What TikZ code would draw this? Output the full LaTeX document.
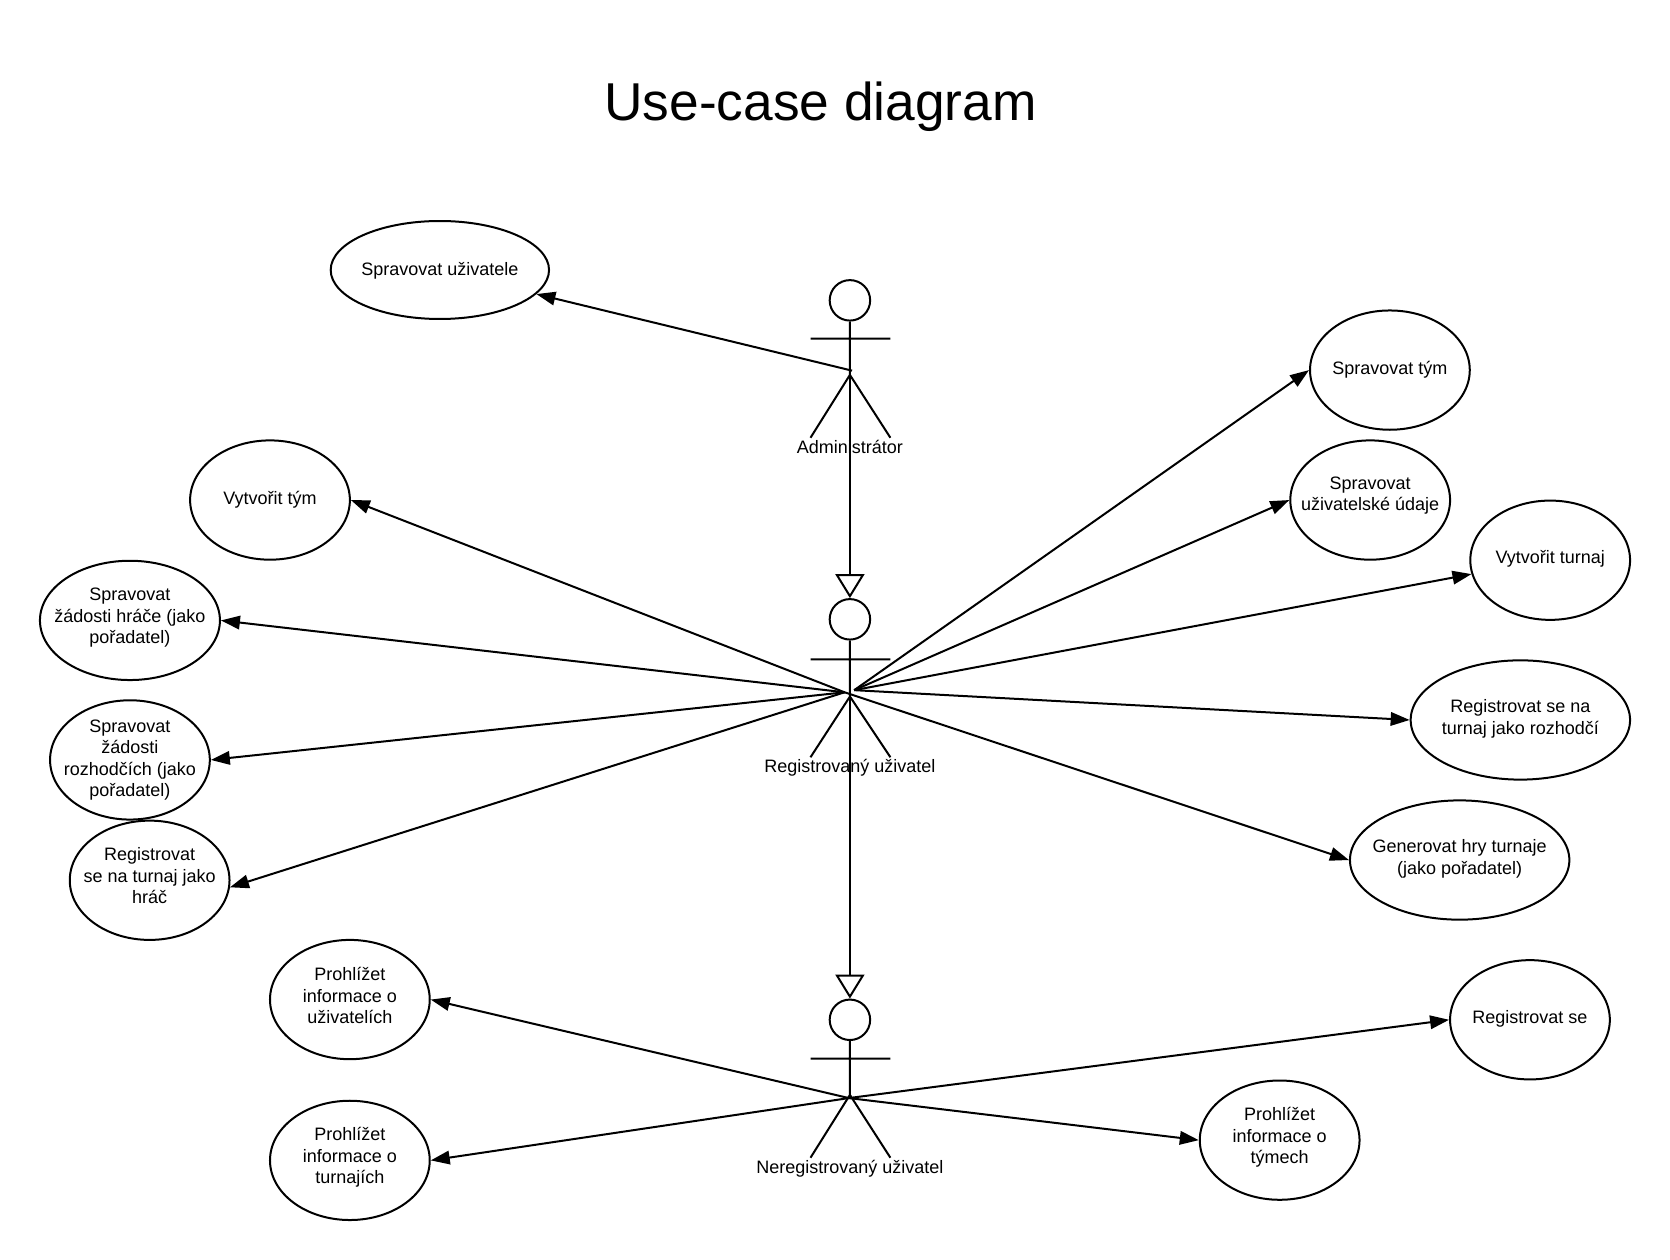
\documentclass[tikz,border=0pt]{standalone}
\usepackage{fontspec}
\setmainfont{Liberation Sans}
\usetikzlibrary{arrows.meta,shapes.geometric}
\def\U{1.0651pt}
\tikzset{
  uc/.style n args={4}{ellipse,draw,line width=2pt,inner sep=0pt,minimum width=(#1-1)*\U,minimum height=(#2-1)*\U,
    label={[txt,align=center,yshift={-(#4+2.2)*\U}]center:\strut #3\strut}},
  txt/.style={font=\fontsize{18}{21.5}\selectfont,text=black},
  head/.style={circle,draw,line width=2pt,inner sep=0pt,minimum size=38*\U},
  limb/.style={line width=2pt},
  assoc/.style={line width=2pt,-{Triangle[length=19pt,width=13.5pt]}},
  gen/.style={line width=2pt,-{Triangle[open,length=24pt,width=29pt,fill=white]}},
}
\begin{document}
\begin{tikzpicture}[x=1.0651pt,y=-1.0651pt]
\useasboundingbox (0,0) rectangle (1568,1183);
\node[font=\fontsize{53.3}{60}\selectfont] (title) at (770.5,100) {Use-case diagram};
% use cases
\node[uc={206}{93}{Spravovat uživatele}{-1.5}] (su) at (413,253.5) {};
\node[uc={151}{113}{Vytvořit tým}{-2.5}] (vt) at (253.5,469.5) {};
\node[uc={170}{113}{Spravovat\\žádosti hráče (jako\\pořadatel)}{-4.5}] (zh) at (122,582.5) {};
\node[uc={151}{113}{Spravovat\\žádosti\\rozhodčích (jako\\pořadatel)}{-2}] (zr) at (122,713.5) {};
\node[uc={151}{113}{Registrovat\\se na turnaj jako\\hráč}{-4.5}] (rh) at (140.5,826.5) {};
\node[uc={151}{113}{Prohlížet\\informace o\\uživatelích}{-3.5}] (pu) at (328.5,938.5) {};
\node[uc={151}{113}{Prohlížet\\informace o\\turnajích}{-4.5}] (pt) at (328.5,1089.5) {};
\node[uc={151}{113}{Spravovat tým}{-2.5}] (st) at (1305,347.5) {};
\node[uc={151}{113}{Spravovat\\uživatelské údaje}{-6.5}] (sd) at (1286.5,469.5) {};
\node[uc={151}{113}{Vytvořit turnaj}{-3}] (vu) at (1455.5,526) {};
\node[uc={207}{113}{Registrovat se na\\turnaj jako rozhodčí}{-3}] (rr) at (1427.5,676) {};
\node[uc={207}{113}{Generovat hry turnaje\\(jako pořadatel)}{-3}] (gh) at (1370.5,807.5) {};
\node[uc={151}{113}{Registrovat se}{-2.5}] (rs) at (1436.5,957.5) {};
\node[uc={151}{113}{Prohlížet\\informace o\\týmech}{-4.5}] (pm) at (1201.5,1070.5) {};
% actor labels
\node[txt] (la) at (798,421.5) {\strut Administrátor};
\node[txt] (lr) at (798,721.5) {\strut Registrovaný uživatel};
\node[txt] (ln) at (798,1097.5) {\strut Neregistrovaný uživatel};
% actors
\node[head] (ah) at (798,282) {};
\node[head] (rh0) at (798,581.5) {};
\node[head] (nh) at (798,957.5) {};
\coordinate (ahip) at (798,352); \coordinate (rhip) at (798,654); \coordinate (nhip) at (798,1028);
\coordinate (aarmL) at (761,318); \coordinate (aarmR) at (836,318);
\coordinate (rarmL) at (761,619); \coordinate (rarmR) at (836,619);
\coordinate (narmL) at (761,994); \coordinate (narmR) at (836,994);
\coordinate (alegL) at (761,411); \coordinate (alegR) at (836,411);
\coordinate (rlegL) at (761,711); \coordinate (rlegR) at (836,711);
\coordinate (nlegL) at (761,1087); \coordinate (nlegR) at (836,1087);
\draw[limb] (ah) -- (ahip) (aarmL) -- (aarmR) (alegL) -- (ahip) -- (alegR);
\draw[limb] (rh0) -- (rhip) (rarmL) -- (rarmR) (rlegL) -- (rhip) -- (rlegR);
\draw[limb] (nh) -- (nhip) (narmL) -- (narmR) (nlegL) -- (nhip) -- (nlegR);
% generalisations
\draw[gen] (ahip) -- (rh0);
\draw[gen] (rhip) -- (nh);
% associations
\coordinate (ac) at (800,348);
\coordinate (rcl) at (793,650);
\coordinate (rcr) at (802,648);
\coordinate (nc) at (797,1031);
\draw[assoc] (ac) -- (su.-14);
\draw[assoc] (rcl) -- (vt.east);
\draw[assoc] (rcl) -- (zh.east);
\draw[assoc] (rcl) -- (zr.east);
\draw[assoc] (rcl) -- (rh.-5);
\draw[assoc] (rcr) -- (st.west);
\draw[assoc] (rcr) -- (sd.west);
\draw[assoc] (rcr) -- (vu.190);
\draw[assoc] (rcr) -- (rr.west);
\draw[assoc] (rcl) -- (gh.west);
\draw[assoc] (nc) -- (pu.east);
\draw[assoc] (nc) -- (pt.east);
\draw[assoc] (nc) -- (rs.west);
\draw[assoc] (nc) -- (pm.west);
\end{tikzpicture}
\end{document}
